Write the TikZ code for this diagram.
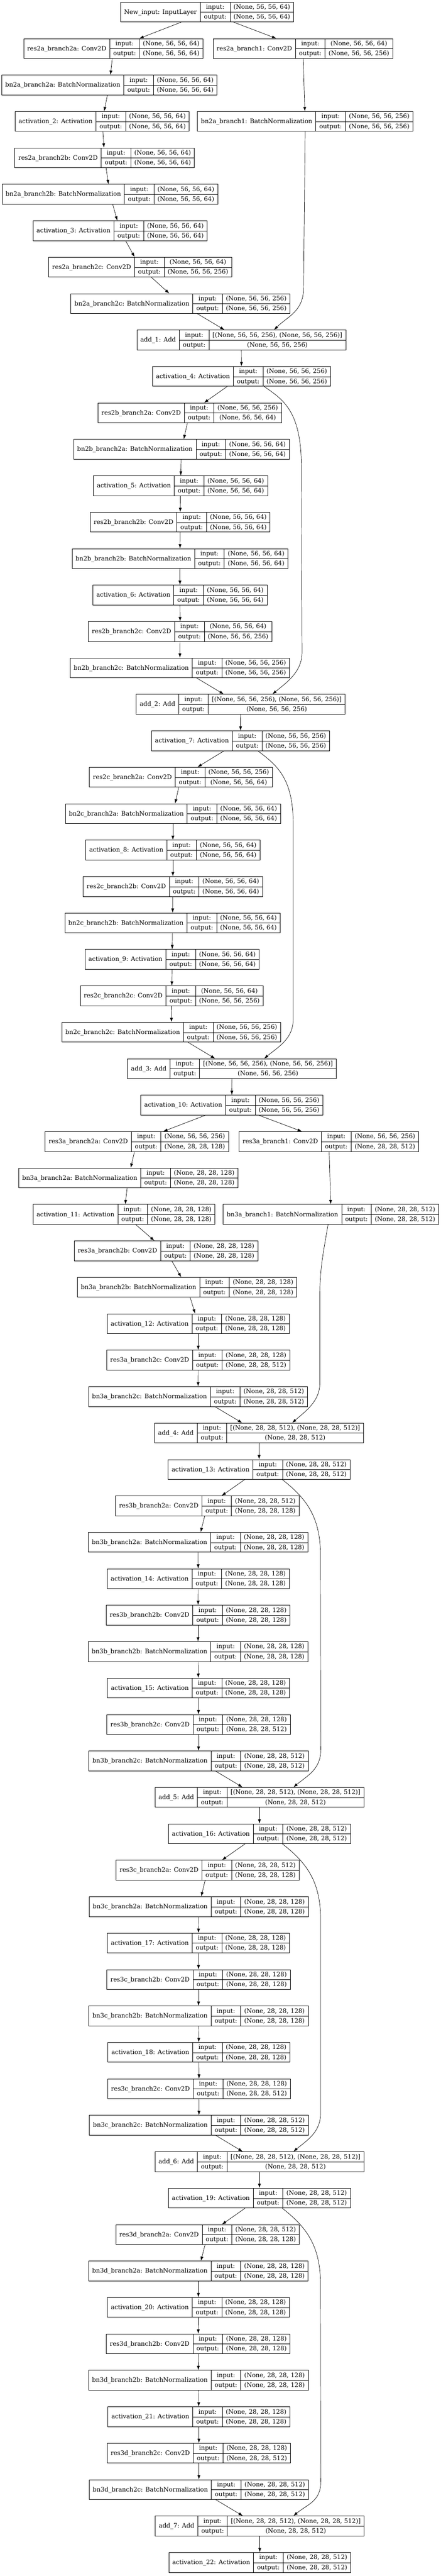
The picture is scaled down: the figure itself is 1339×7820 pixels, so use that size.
\documentclass[tikz,border=0pt]{standalone}
\usepackage{fontspec}
\setmainfont{DejaVu Serif}
\usepackage{multirow}
\usetikzlibrary{arrows.meta}

\setlength{\tabcolsep}{10.67pt}
\setlength{\arrayrulewidth}{1.33pt}

\newcommand{\dims}[2]{(None, #1, #1, #2)}
\newcommand{\netlayer}[6]{%
	\node[layerbox] (#1) at (#3,{-36.75-110.6*#4}) {%
		\begin{tabular}{c|c|c}
			\multirow{2}{*}{\detokenize{#1}: #2} & input: & #5 \\ \cline{2-3}
			& output: & #6
		\end{tabular}};}

\begin{document}
\begin{tikzpicture}[x=1pt, y=1pt]

\tikzstyle{layerbox} = [draw, line width=1.33pt, inner sep=0pt, font=\fontsize{18.67}{30.1}\selectfont]
\tikzstyle{flow} = [-{Latex[length=13pt, width=9pt]}, line width=1.1pt]

\path[use as bounding box, fill=white] (0,0) rectangle (1339,-7820);

%------------------------------------------------------------
	\netlayer{New_input}{InputLayer}{629.5}{0}{\dims{56}{64}}{\dims{56}{64}}
	\netlayer{res2a_branch2a}{Conv2D}{344.5}{1}{\dims{56}{64}}{\dims{56}{64}}
	\netlayer{res2a_branch1}{Conv2D}{920.5}{1}{\dims{56}{64}}{\dims{56}{256}}
	\netlayer{bn2a_branch2a}{BatchNormalization}{332.5}{2}{\dims{56}{64}}{\dims{56}{64}}
	\netlayer{activation_2}{Activation}{310.5}{3}{\dims{56}{64}}{\dims{56}{64}}
	\netlayer{bn2a_branch1}{BatchNormalization}{927.5}{3}{\dims{56}{256}}{\dims{56}{256}}
	\netlayer{res2a_branch2b}{Conv2D}{318}{4}{\dims{56}{64}}{\dims{56}{64}}
	\netlayer{bn2a_branch2b}{BatchNormalization}{334}{5}{\dims{56}{64}}{\dims{56}{64}}
	\netlayer{activation_3}{Activation}{365}{6}{\dims{56}{64}}{\dims{56}{64}}
	\netlayer{res2a_branch2c}{Conv2D}{426}{7}{\dims{56}{64}}{\dims{56}{256}}
	\netlayer{bn2a_branch2c}{BatchNormalization}{548.5}{8}{\dims{56}{256}}{\dims{56}{256}}
	\netlayer{add_1}{Add}{733.5}{9}{[\dims{56}{256}, \dims{56}{256}]}{\dims{56}{256}}

%------------------------------------------------------------
	\netlayer{activation_4}{Activation}{734}{10}{\dims{56}{256}}{\dims{56}{256}}
	\netlayer{res2b_branch2a}{Conv2D}{576.5}{11}{\dims{56}{256}}{\dims{56}{64}}
	\netlayer{bn2b_branch2a}{BatchNormalization}{551.5}{12}{\dims{56}{64}}{\dims{56}{64}}
	\netlayer{activation_5}{Activation}{548.5}{13}{\dims{56}{64}}{\dims{56}{64}}
	\netlayer{res2b_branch2b}{Conv2D}{547.5}{14}{\dims{56}{64}}{\dims{56}{64}}
	\netlayer{bn2b_branch2b}{BatchNormalization}{547}{15}{\dims{56}{64}}{\dims{56}{64}}
	\netlayer{activation_6}{Activation}{547}{16}{\dims{56}{64}}{\dims{56}{64}}
	\netlayer{res2b_branch2c}{Conv2D}{547.5}{17}{\dims{56}{64}}{\dims{56}{256}}
	\netlayer{bn2b_branch2c}{BatchNormalization}{546.5}{18}{\dims{56}{256}}{\dims{56}{256}}
	\netlayer{add_2}{Add}{731.5}{19}{[\dims{56}{256}, \dims{56}{256}]}{\dims{56}{256}}

%------------------------------------------------------------
	\netlayer{activation_7}{Activation}{731}{20}{\dims{56}{256}}{\dims{56}{256}}
	\netlayer{res2c_branch2a}{Conv2D}{550}{21}{\dims{56}{256}}{\dims{56}{64}}
	\netlayer{bn2c_branch2a}{BatchNormalization}{525.5}{22}{\dims{56}{64}}{\dims{56}{64}}
	\netlayer{activation_8}{Activation}{525.5}{23}{\dims{56}{64}}{\dims{56}{64}}
	\netlayer{res2c_branch2b}{Conv2D}{525.5}{24}{\dims{56}{64}}{\dims{56}{64}}
	\netlayer{bn2c_branch2b}{BatchNormalization}{524.5}{25}{\dims{56}{64}}{\dims{56}{64}}
	\netlayer{activation_9}{Activation}{523}{26}{\dims{56}{64}}{\dims{56}{64}}
	\netlayer{res2c_branch2c}{Conv2D}{522}{27}{\dims{56}{64}}{\dims{56}{256}}
	\netlayer{bn2c_branch2c}{BatchNormalization}{520.5}{28}{\dims{56}{256}}{\dims{56}{256}}
	\netlayer{add_3}{Add}{705}{29}{[\dims{56}{256}, \dims{56}{256}]}{\dims{56}{256}}

%------------------------------------------------------------
	\netlayer{activation_10}{Activation}{704.5}{30}{\dims{56}{256}}{\dims{56}{256}}
	\netlayer{res3a_branch2a}{Conv2D}{416}{31}{\dims{56}{256}}{\dims{28}{128}}
	\netlayer{res3a_branch1}{Conv2D}{999.5}{31}{\dims{56}{256}}{\dims{28}{512}}
	\netlayer{bn3a_branch2a}{BatchNormalization}{390}{32}{\dims{28}{128}}{\dims{28}{128}}
	\netlayer{activation_11}{Activation}{377}{33}{\dims{28}{128}}{\dims{28}{128}}
	\netlayer{bn3a_branch1}{BatchNormalization}{1006}{33}{\dims{28}{512}}{\dims{28}{512}}
	\netlayer{res3a_branch2b}{Conv2D}{504.5}{34}{\dims{28}{128}}{\dims{28}{128}}
	\netlayer{bn3a_branch2b}{BatchNormalization}{568.5}{35}{\dims{28}{128}}{\dims{28}{128}}
	\netlayer{activation_12}{Activation}{602.5}{36}{\dims{28}{128}}{\dims{28}{128}}
	\netlayer{res3a_branch2c}{Conv2D}{602.5}{37}{\dims{28}{128}}{\dims{28}{512}}
	\netlayer{bn3a_branch2c}{BatchNormalization}{602}{38}{\dims{28}{512}}{\dims{28}{512}}
	\netlayer{add_4}{Add}{787.5}{39}{[\dims{28}{512}, \dims{28}{512}]}{\dims{28}{512}}

%------------------------------------------------------------
	\netlayer{activation_13}{Activation}{787.5}{40}{\dims{28}{512}}{\dims{28}{512}}
	\netlayer{res3b_branch2a}{Conv2D}{630}{41}{\dims{28}{512}}{\dims{28}{128}}
	\netlayer{bn3b_branch2a}{BatchNormalization}{602}{42}{\dims{28}{128}}{\dims{28}{128}}
	\netlayer{activation_14}{Activation}{602.5}{43}{\dims{28}{128}}{\dims{28}{128}}
	\netlayer{res3b_branch2b}{Conv2D}{602}{44}{\dims{28}{128}}{\dims{28}{128}}
	\netlayer{bn3b_branch2b}{BatchNormalization}{602}{45}{\dims{28}{128}}{\dims{28}{128}}
	\netlayer{activation_15}{Activation}{603}{46}{\dims{28}{128}}{\dims{28}{128}}
	\netlayer{res3b_branch2c}{Conv2D}{603.5}{47}{\dims{28}{128}}{\dims{28}{512}}
	\netlayer{bn3b_branch2c}{BatchNormalization}{603.5}{48}{\dims{28}{512}}{\dims{28}{512}}
	\netlayer{add_5}{Add}{788.5}{49}{[\dims{28}{512}, \dims{28}{512}]}{\dims{28}{512}}

%------------------------------------------------------------
	\netlayer{activation_16}{Activation}{788.5}{50}{\dims{28}{512}}{\dims{28}{512}}
	\netlayer{res3c_branch2a}{Conv2D}{631}{51}{\dims{28}{512}}{\dims{28}{128}}
	\netlayer{bn3c_branch2a}{BatchNormalization}{604}{52}{\dims{28}{128}}{\dims{28}{128}}
	\netlayer{activation_17}{Activation}{603}{53}{\dims{28}{128}}{\dims{28}{128}}
	\netlayer{res3c_branch2b}{Conv2D}{603.5}{54}{\dims{28}{128}}{\dims{28}{128}}
	\netlayer{bn3c_branch2b}{BatchNormalization}{603.5}{55}{\dims{28}{128}}{\dims{28}{128}}
	\netlayer{activation_18}{Activation}{604.5}{56}{\dims{28}{128}}{\dims{28}{128}}
	\netlayer{res3c_branch2c}{Conv2D}{605}{57}{\dims{28}{128}}{\dims{28}{512}}
	\netlayer{bn3c_branch2c}{BatchNormalization}{604.5}{58}{\dims{28}{512}}{\dims{28}{512}}
	\netlayer{add_6}{Add}{788.5}{59}{[\dims{28}{512}, \dims{28}{512}]}{\dims{28}{512}}

%------------------------------------------------------------
	\netlayer{activation_19}{Activation}{788.5}{60}{\dims{28}{512}}{\dims{28}{512}}
	\netlayer{res3d_branch2a}{Conv2D}{631}{61}{\dims{28}{512}}{\dims{28}{128}}
	\netlayer{bn3d_branch2a}{BatchNormalization}{603}{62}{\dims{28}{128}}{\dims{28}{128}}
	\netlayer{activation_20}{Activation}{603}{63}{\dims{28}{128}}{\dims{28}{128}}
	\netlayer{res3d_branch2b}{Conv2D}{602.5}{64}{\dims{28}{128}}{\dims{28}{128}}
	\netlayer{bn3d_branch2b}{BatchNormalization}{603}{65}{\dims{28}{128}}{\dims{28}{128}}
	\netlayer{activation_21}{Activation}{604.5}{66}{\dims{28}{128}}{\dims{28}{128}}
	\netlayer{res3d_branch2c}{Conv2D}{604.5}{67}{\dims{28}{128}}{\dims{28}{512}}
	\netlayer{bn3d_branch2c}{BatchNormalization}{604.5}{68}{\dims{28}{512}}{\dims{28}{512}}
	\netlayer{add_7}{Add}{789.5}{69}{[\dims{28}{512}, \dims{28}{512}]}{\dims{28}{512}}
	\netlayer{activation_22}{Activation}{789.5}{70}{\dims{28}{512}}{\dims{28}{512}}

%------------------------------------------------------------
	\draw[flow] (New_input) -- (res2a_branch2a);
	\draw[flow] (New_input) -- (res2a_branch1);
	\draw[flow] (res2a_branch2a) -- (bn2a_branch2a);
	\draw[flow] (res2a_branch1) -- (bn2a_branch1);
	\draw[flow] (bn2a_branch2a) -- (activation_2);
	\draw[flow] (activation_2) -- (res2a_branch2b);
	\draw[flow] (res2a_branch2b) -- (bn2a_branch2b);
	\draw[flow] (bn2a_branch2b) -- (activation_3);
	\draw[flow] (activation_3) -- (res2a_branch2c);
	\draw[flow] (res2a_branch2c) -- (bn2a_branch2c);
	\draw[flow] (bn2a_branch2c) -- (add_1);
	\draw[flow] (bn2a_branch1.south) -- ++(-5,-476) .. controls +(0,-70) and +(40,40) .. ([xshift=99.5]add_1.north);
	\draw[flow] (add_1) -- (activation_4);

	\draw[flow] (activation_4) -- (res2b_branch2a);
	\draw[flow] (res2b_branch2a) -- (bn2b_branch2a);
	\draw[flow] (bn2b_branch2a) -- (activation_5);
	\draw[flow] (activation_5) -- (res2b_branch2b);
	\draw[flow] (res2b_branch2b) -- (bn2b_branch2b);
	\draw[flow] (bn2b_branch2b) -- (activation_6);
	\draw[flow] (activation_6) -- (res2b_branch2c);
	\draw[flow] (res2b_branch2c) -- (bn2b_branch2c);
	\draw[flow] (bn2b_branch2c) -- (add_2);
	\draw[flow] ([xshift=69]activation_4.south) .. controls +(60,-41) and +(0,170) .. ++(113,-246) -- ++(2,-561) .. controls +(0,-60) and +(42,35) .. ([xshift=96.5]add_2.north);
	\draw[flow] (add_2) -- (activation_7);

	\draw[flow] (activation_7) -- (res2c_branch2a);
	\draw[flow] (res2c_branch2a) -- (bn2c_branch2a);
	\draw[flow] (bn2c_branch2a) -- (activation_8);
	\draw[flow] (activation_8) -- (res2c_branch2b);
	\draw[flow] (res2c_branch2b) -- (bn2c_branch2b);
	\draw[flow] (bn2c_branch2b) -- (activation_9);
	\draw[flow] (activation_9) -- (res2c_branch2c);
	\draw[flow] (res2c_branch2c) -- (bn2c_branch2c);
	\draw[flow] (bn2c_branch2c) -- (add_3);
	\draw[flow] ([xshift=53]activation_7.south) .. controls +(55,-42) and +(0,140) .. ++(107,-220) -- ++(0,-595) .. controls +(0,-60) and +(42,35) .. ([xshift=98]add_3.north);
	\draw[flow] (add_3) -- (activation_10);

	\draw[flow] (activation_10) -- (res3a_branch2a);
	\draw[flow] (activation_10) -- (res3a_branch1);
	\draw[flow] (res3a_branch2a) -- (bn3a_branch2a);
	\draw[flow] (res3a_branch1) -- (bn3a_branch1);
	\draw[flow] (bn3a_branch2a) -- (activation_11);
	\draw[flow] (activation_11) -- (res3a_branch2b);
	\draw[flow] (res3a_branch2b) -- (bn3a_branch2b);
	\draw[flow] (bn3a_branch2b) -- (activation_12);
	\draw[flow] (activation_12) -- (res3a_branch2c);
	\draw[flow] (res3a_branch2c) -- (bn3a_branch2c);
	\draw[flow] (bn3a_branch2c) -- (add_4);
	\draw[flow] ([xshift=-9]bn3a_branch1.south) .. controls +(-15,-90) and +(0,90) .. ++(-25,-222) -- ++(0,-260) .. controls +(0,-55) and +(40,35) .. ([xshift=100.5]add_4.north);
	\draw[flow] (add_4) -- (activation_13);

	\draw[flow] (activation_13) -- (res3b_branch2a);
	\draw[flow] (res3b_branch2a) -- (bn3b_branch2a);
	\draw[flow] (bn3b_branch2a) -- (activation_14);
	\draw[flow] (activation_14) -- (res3b_branch2b);
	\draw[flow] (res3b_branch2b) -- (bn3b_branch2b);
	\draw[flow] (bn3b_branch2b) -- (activation_15);
	\draw[flow] (activation_15) -- (res3b_branch2c);
	\draw[flow] (res3b_branch2c) -- (bn3b_branch2c);
	\draw[flow] (bn3b_branch2c) -- (add_5);
	\draw[flow] ([xshift=70.5]activation_13.south) .. controls +(70,-55) and +(0,120) .. ++(116,-230) -- ++(1,-590) .. controls +(0,-60) and +(42,35) .. ([xshift=103.5]add_5.north);
	\draw[flow] (add_5) -- (activation_16);

	\draw[flow] (activation_16) -- (res3c_branch2a);
	\draw[flow] (res3c_branch2a) -- (bn3c_branch2a);
	\draw[flow] (bn3c_branch2a) -- (activation_17);
	\draw[flow] (activation_17) -- (res3c_branch2b);
	\draw[flow] (res3c_branch2b) -- (bn3c_branch2b);
	\draw[flow] (bn3c_branch2b) -- (activation_18);
	\draw[flow] (activation_18) -- (res3c_branch2c);
	\draw[flow] (res3c_branch2c) -- (bn3c_branch2c);
	\draw[flow] (bn3c_branch2c) -- (add_6);
	\draw[flow] ([xshift=70]activation_16.south) .. controls +(70,-55) and +(0,120) .. ++(116,-230) -- ++(0,-586) .. controls +(0,-60) and +(42,35) .. ([xshift=103.5]add_6.north);
	\draw[flow] (add_6) -- (activation_19);

	\draw[flow] (activation_19) -- (res3d_branch2a);
	\draw[flow] (res3d_branch2a) -- (bn3d_branch2a);
	\draw[flow] (bn3d_branch2a) -- (activation_20);
	\draw[flow] (activation_20) -- (res3d_branch2b);
	\draw[flow] (res3d_branch2b) -- (bn3d_branch2b);
	\draw[flow] (bn3d_branch2b) -- (activation_21);
	\draw[flow] (activation_21) -- (res3d_branch2c);
	\draw[flow] (res3d_branch2c) -- (bn3d_branch2c);
	\draw[flow] (bn3d_branch2c) -- (add_7);
	\draw[flow] ([xshift=69.5]activation_19.south) .. controls +(70,-55) and +(0,120) .. ++(116,-230) -- ++(1,-600) .. controls +(0,-60) and +(42,35) .. ([xshift=102.5]add_7.north);
	\draw[flow] (add_7) -- (activation_22);

\end{tikzpicture}
\end{document}
